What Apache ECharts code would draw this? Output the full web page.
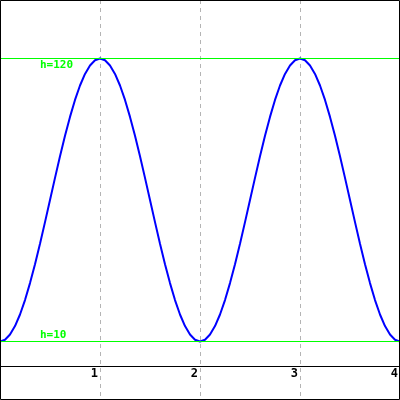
<!DOCTYPE html>
<html>
<head>
<meta charset="utf-8">
<script src="https://cdn.jsdelivr.net/npm/echarts@6/dist/echarts.min.js"></script>
<style>
html,body{margin:0;padding:0;background:#fff;}
#c{width:400px;height:400px;}
</style>
</head>
<body>
<div id="c"></div>
<script>
// x positions (step 0.05 from 0 to 4)
var xValues = [];
for (var i = 0; i <= 80; i++) { xValues.push(+(i * 0.05).toFixed(2)); }
// heights
var hValues = [
  10, 10.7, 12.7, 16.0, 20.5, 26.1, 32.7, 40.0, 48.0, 56.4,
  65.0, 73.6, 82.0, 90.0, 97.3, 103.9, 109.5, 114.0, 117.3, 119.3,
  120,
  119.3, 117.3, 114.0, 109.5, 103.9, 97.3, 90.0, 82.0, 73.6, 65.0,
  56.4, 48.0, 40.0, 32.7, 26.1, 20.5, 16.0, 12.7, 10.7,
  10,
  10.7, 12.7, 16.0, 20.5, 26.1, 32.7, 40.0, 48.0, 56.4, 65.0,
  73.6, 82.0, 90.0, 97.3, 103.9, 109.5, 114.0, 117.3, 119.3,
  120,
  119.3, 117.3, 114.0, 109.5, 103.9, 97.3, 90.0, 82.0, 73.6, 65.0,
  56.4, 48.0, 40.0, 32.7, 26.1, 20.5, 16.0, 12.7, 10.7,
  10
];
var xTicks = [1, 2, 3, 4];
var levelLines = [120, 10];
var levelLabels = ['h=120', 'h=10'];

var data = xValues.map(function (x, i) { return [x, hValues[i]]; });
var chart = echarts.init(document.getElementById('c'), null, {renderer: 'canvas'});
var green = '#00ff00';
var mono = '"DejaVu Sans Mono", monospace';
chart.setOption({
  animation: false,
  grid: [
    {left: 0, right: 0, top: 0, bottom: 0, containLabel: false, outerBoundsMode: 'none'},
    {left: 0, right: 0, top: 0, bottom: 34, containLabel: false, outerBoundsMode: 'none'}
  ],
  xAxis: [{
    gridIndex: 0, type: 'value', min: 0, max: 4, interval: 1,
    axisLine: {show: false}, axisTick: {show: false}, axisLabel: {show: false},
    splitLine: {show: true, lineStyle: {color: '#b4b4b4', type: [4, 4], width: 1}}
  }, {
    gridIndex: 1, type: 'value', min: 0, max: 4, interval: 1, position: 'bottom',
    axisLine: {show: true, onZero: false, lineStyle: {color: '#000', width: 1}},
    axisTick: {show: false},
    splitLine: {show: false},
    axisLabel: {
      show: true, align: 'right', margin: 2, color: '#000',
      fontFamily: mono, fontWeight: 'bold', fontSize: 12,
      padding: [0, 2, 0, 0],
      formatter: function (v) { return xTicks.indexOf(v) >= 0 ? String(v) : ''; }
    }
  }],
  yAxis: [{
    gridIndex: 0, type: 'value', min: -12.74, max: 142.74,
    axisLine: {show: false}, axisTick: {show: false}, axisLabel: {show: false},
    splitLine: {show: false}
  }, {
    gridIndex: 1, type: 'value', min: 0, max: 1,
    axisLine: {show: false}, axisTick: {show: false}, axisLabel: {show: false},
    splitLine: {show: false}
  }],
  graphic: [{
    type: 'rect', shape: {x: 0.5, y: 0.5, width: 399, height: 399},
    style: {fill: 'none', stroke: '#000', lineWidth: 1}, z: 100
  }],
  series: [{
    type: 'line', xAxisIndex: 0, yAxisIndex: 0,
    data: data, showSymbol: false, smooth: false,
    lineStyle: {color: '#0000ff', width: 2},
    z: 3,
    markLine: {
      silent: true, symbol: 'none', animation: false,
      lineStyle: {color: green, type: 'solid', width: 1},
      data: [
        {yAxis: levelLines[0], label: {show: true, formatter: levelLabels[0], position: 'insideStartBottom', distance: [40, 1], color: green, fontFamily: mono, fontWeight: 'bold', fontSize: 11}},
        {yAxis: levelLines[1], label: {show: true, formatter: levelLabels[1], position: 'insideStartTop', distance: [40, 1], color: green, fontFamily: mono, fontWeight: 'bold', fontSize: 11}}
      ]
    }
  }]
});
</script>
</body>
</html>
